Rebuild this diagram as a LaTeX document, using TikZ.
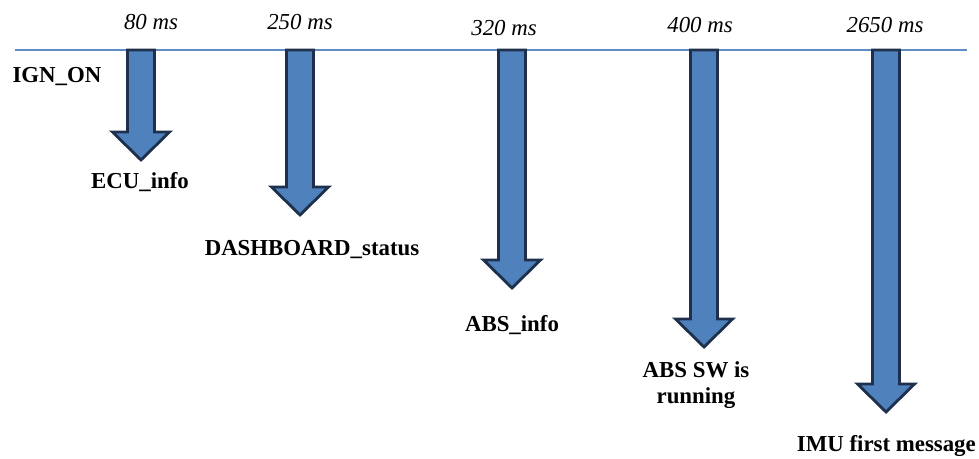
\documentclass[tikz,border=0pt]{standalone}
\usepackage{fontspec}
\setmainfont{Liberation Serif}
\usepackage{tikz}
\usetikzlibrary{calc}

\definecolor{arrowblue}{RGB}{79,129,189}
\definecolor{arrowedge}{RGB}{30,48,76}
\definecolor{lineblue}{RGB}{95,140,195}

\tikzset{
  timelbl/.style={font=\fontsize{13}{15}\selectfont\itshape},
  eventlbl/.style={font=\fontsize{13}{15}\selectfont\bfseries, align=center},
  blockarrow/.style={fill=arrowblue, draw=arrowedge, line width=1.6pt, line join=miter}
}

\begin{document}
\begin{tikzpicture}[x=0.02cm, y=-0.02cm]
            \useasboundingbox (0,0) rectangle (979,459);
            % time axis
            \coordinate (L) at (15,50);
            \coordinate (R) at (967,50);
            \draw[lineblue, line width=1.2pt] (L) -- (R);
            \node[eventlbl] (Ign) at (57,77) {IGN\_ON};
            % block arrows: centre / tip
            \foreach \cx/\tip in {141/160, 300/215, 512/288, 704/347, 886/412} {
              \draw[blockarrow] (\cx-13.5,50) -- (\cx-13.5,\tip-28) -- (\cx-28.5,\tip-28)
                -- (\cx,\tip) -- (\cx+28.5,\tip-28) -- (\cx+13.5,\tip-28) -- (\cx+13.5,50) -- cycle;
            }
            \node[timelbl] (T0) at (151,22) {80 ms};
            \node[timelbl] (T1) at (300,22) {250 ms};
            \node[timelbl] (T2) at (504,28) {320 ms};
            \node[timelbl] (T3) at (700,25) {400 ms};
            \node[timelbl] (T4) at (885,25) {2650 ms};
            \node[eventlbl] (E0) at (140,182) {ECU\_info};
            \node[eventlbl] (E1) at (312,250) {DASHBOARD\_status};
            \node[eventlbl] (E2) at (512,325) {ABS\_info};
            \node[eventlbl] (E3) at (696,385) {ABS SW is\\running};
            \node[eventlbl, anchor=east] (E4) at (982,446) {IMU first message};
        \end{tikzpicture}
\end{document}
